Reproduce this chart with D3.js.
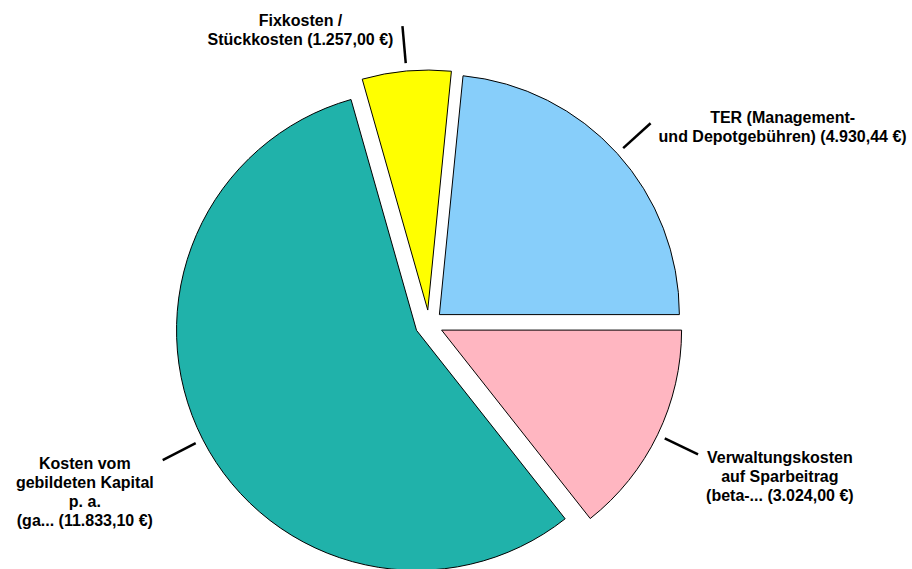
<script src="https://d3js.org/d3.v7.min.js"></script>

<style>
  body { margin: 0; background: #fff; }
  text { font-family: "Liberation Sans", Arial, sans-serif; font-weight: bold; fill: #000; }
</style>

<body>
  <div id="pie-chart"></div>
</body>

<script>
// data
var categories = [
  ["TER (Management-", "und Depotgebühren)"],
  ["Verwaltungskosten", "auf Sparbeitrag", "(beta-..."],
  ["Kosten vom", "gebildeten Kapital", "p. a.", "(ga..."],
  ["Fixkosten /", "Stückkosten"]
]
var values = [4930.44, 3024.00, 11833.10, 1257.00]
var colors = ["#87CEFA", "#FFB6C1", "#20B2AA", "#FFFF00"]

var width = 912, height = 569
var cx = 429, cy = 324, radius = 240, explode = 14
var fontSize = 16, lineH = 19

var de = d3.formatLocale({decimal: ",", thousands: ".", grouping: [3], currency: ["", " €"]})
var fmt = de.format(",.2f")

var svg = d3.select("#pie-chart")
  .append("svg")
  .attr("width", width)
  .attr("height", height)

var total = d3.sum(values)
// first slice ends at 3 o'clock
var start = Math.PI / 2 - values[0] / total * 2 * Math.PI

var pie = d3.pie().sort(null).startAngle(start).endAngle(start + 2 * Math.PI)
var arcs = pie(values)

var arc = d3.arc().innerRadius(0).outerRadius(radius)

function mid(d) { return (d.startAngle + d.endAngle) / 2 }
function offset(d, r) {
  var a = mid(d)
  return [cx + explode * Math.sin(a) + r * Math.sin(a), cy - explode * Math.cos(a) - r * Math.cos(a)]
}

var g = svg.selectAll(".slice")
  .data(arcs)
  .enter()
  .append("g")
  .attr("class", "slice")

g.append("path")
  .attr("transform", function(d) { var p = offset(d, 0); return "translate(" + p[0] + "," + p[1] + ")" })
  .attr("d", arc)
  .attr("fill", function(d, i) { return colors[i] })
  .attr("stroke", "#000")
  .attr("stroke-width", 1)

// leader lines
g.append("line")
  .attr("x1", function(d) { return offset(d, radius + 8)[0] })
  .attr("y1", function(d) { return offset(d, radius + 8)[1] })
  .attr("x2", function(d) { return offset(d, radius + 45)[0] })
  .attr("y2", function(d) { return offset(d, radius + 45)[1] })
  .attr("stroke", "#000")
  .attr("stroke-width", 2.5)

// labels
g.each(function(d, i) {
  var lines = categories[i].slice()
  lines[lines.length - 1] += " (" + fmt(values[i]) + " €)"
  var end = offset(d, radius + 45)
  var a = mid(d)
  var t = d3.select(this).append("text")
    .attr("text-anchor", "middle")
    .style("font-size", fontSize + "px")
  var spans = t.selectAll("tspan").data(lines).enter().append("tspan").text(function(s) { return s })
  var w = d3.max(spans.nodes(), function(n) { return n.getComputedTextLength() })
  var x = Math.sin(a) > 0 ? end[0] + 8 + w / 2 : end[0] - 9 - w / 2
  var y0 = Math.cos(a) > 0 ? end[1] + 4 - (lines.length - 1) * lineH / 2 : end[1] + 3
  spans.attr("x", x).attr("y", function(s, j) { return y0 + j * lineH + fontSize * 0.35 })
})
</script>
